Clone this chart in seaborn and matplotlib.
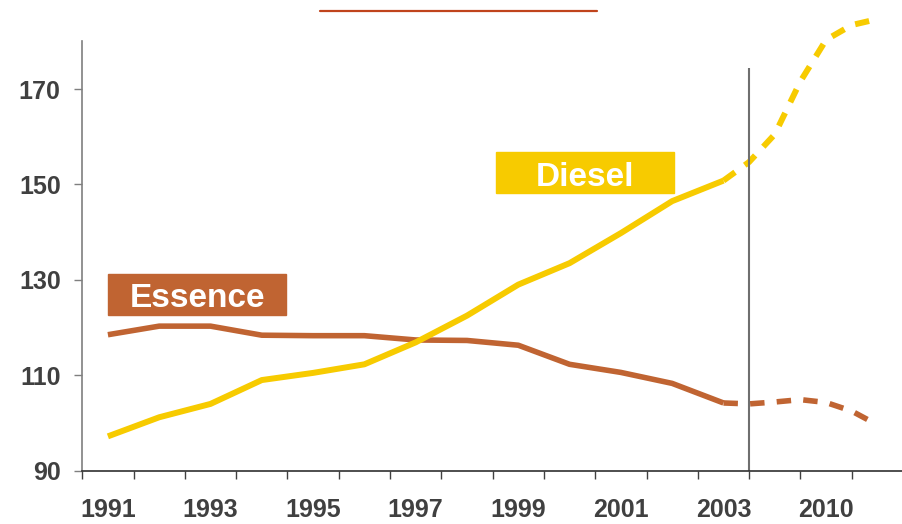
import numpy as np
import pandas as pd
import matplotlib
matplotlib.use("Agg")
from matplotlib import pyplot as plt
from matplotlib.patches import Rectangle
from matplotlib.lines import Line2D
import seaborn as sns

# data (index base ~100)
years = ['1991', '1992', '1993', '1994', '1995', '1996', '1997',
         '1998', '1999', '2000', '2001', '2002', '2003']
essence = [118.5, 120.3, 120.3, 118.4, 118.3, 118.3, 117.4,
           117.3, 116.3, 112.3, 110.6, 108.3, 104.2]
diesel = [97.2, 101.2, 104.0, 109.0, 110.5, 112.3, 116.9,
          122.5, 129.0, 133.5, 139.8, 146.5, 150.8]

# projection after 2003 (category positions, 12 = 2003, 14 = 2010)
forecast_pos = [12, 12.5, 13, 13.5, 14, 14.5, 14.9]
essence_fc = [104.2, 104.0, 104.4, 104.9, 104.3, 102.5, 100.2]
diesel_fc = [150.8, 154.7, 160.5, 171.6, 180.3, 183.4, 184.4]

tick_pos = [0, 2, 4, 6, 8, 10, 12, 14]
tick_labels = ['1991', '1993', '1995', '1997', '1999', '2001', '2003', '2010']
y_ticks = [90, 110, 130, 150, 170]

ess_col = '#C06432'
die_col = '#F7CB00'
txt_col = '#404040'

sns.set_style('ticks')
plt.rcParams['font.family'] = ['Liberation Sans', 'DejaVu Sans']

hist = pd.DataFrame({'pos': range(len(years)), 'Essence': essence, 'Diesel': diesel})
fc = pd.DataFrame({'pos': forecast_pos, 'Essence': essence_fc, 'Diesel': diesel_fc})

fig = plt.figure(figsize=(9.03, 5.24), dpi=100)
ax = fig.add_axes([0.0911, 0.1017, 0.9089, 0.8195])

# solid history lines
sns.lineplot(data=hist, x='pos', y='Essence', color=ess_col, lw=4, ax=ax,
             solid_capstyle='butt')
sns.lineplot(data=hist, x='pos', y='Diesel', color=die_col, lw=4.3, ax=ax,
             solid_capstyle='butt')

# dashed projections
sns.lineplot(data=fc, x='pos', y='Essence', color=ess_col, lw=4, ax=ax,
             linestyle=(0, (2.6, 2.2)), dash_capstyle='butt', clip_on=False)
sns.lineplot(data=fc, x='pos', y='Diesel', color=die_col, lw=4.3, ax=ax,
             linestyle=(0, (2.4, 2.0)), dash_capstyle='butt', clip_on=False)

# separator between history and projection
ax.vlines(12.5, 90, 174.5, color='#6F6F6F', lw=1.5)

ax.set_xlim(-0.5, 15.5)
ax.set_ylim(90, 180)
ax.set_xlabel('')
ax.set_ylabel('')

ax.set_yticks(y_ticks)
ax.set_yticklabels([str(v) for v in y_ticks])
ax.set_xticks(tick_pos)
ax.set_xticklabels(tick_labels)
ax.set_xticks(np.arange(-0.5, 16, 1), minor=True)

ax.tick_params(axis='y', length=6, width=1, color='#7F7F7F', pad=9.5,
               labelsize=18, labelcolor=txt_col)
ax.tick_params(axis='x', which='major', length=0, pad=20,
               labelsize=18, labelcolor=txt_col)
ax.tick_params(axis='x', which='minor', length=6, width=1, color='#404040')
for lab in ax.get_xticklabels() + ax.get_yticklabels():
    lab.set_fontweight('bold')

sns.despine(ax=ax)
ax.spines['left'].set_color('#7F7F7F')
ax.spines['left'].set_linewidth(1.2)
ax.spines['bottom'].set_color('#303030')
ax.spines['bottom'].set_linewidth(1.2)

# series labels in coloured boxes
ax.add_patch(Rectangle((0.0, 122.7), 3.47, 8.5, color=ess_col, zorder=5))
ax.text(1.74, 124.3, 'Essence', color='white', fontsize=24, fontweight='bold',
        ha='center', va='baseline', zorder=6)
ax.add_patch(Rectangle((7.56, 148.3), 3.48, 8.5, color=die_col, zorder=5))
ax.text(9.31, 149.7, 'Diesel', color='white', fontsize=24, fontweight='bold',
        ha='center', va='baseline', zorder=6)

# thin title rule at the top
fig.add_artist(Line2D([320 / 903, 597 / 903], [1 - 11 / 524, 1 - 11 / 524],
                      color='#C0441C', lw=1.6))

fig.savefig('out.png', dpi=100)
